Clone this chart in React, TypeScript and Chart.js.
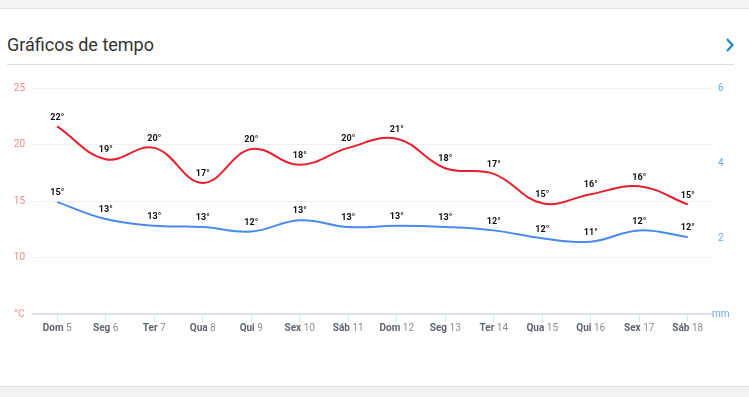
import React, { useEffect, useRef } from "react";
import { Chart, registerables } from "chart.js";

Chart.register(...registerables);

const categories = ["Dom 5", "Seg 6", "Ter 7", "Qua 8", "Qui 9", "Sex 10", "Sáb 11", "Dom 12", "Seg 13", "Ter 14", "Qua 15", "Qui 16", "Sex 17", "Sáb 18"];
const maxTemps = [21.6, 18.7, 19.7, 16.6, 19.6, 18.2, 19.7, 20.5, 17.9, 17.4, 14.8, 15.6, 16.3, 14.7];
const minTemps = [14.9, 13.4, 12.8, 12.7, 12.3, 13.3, 12.7, 12.8, 12.7, 12.4, 11.7, 11.4, 12.4, 11.8];
const tempTicks = { min: 5, max: 25, step: 5, unit: "°C" };
const rainTicks = { min: 0, max: 6, step: 2, unit: "mm" };

const FONT = "Roboto, 'Noto Sans', sans-serif";

const pointLabels = {
  id: "pointLabels",
  afterDatasetsDraw(chart: any) {
    const ctx = chart.ctx;
    ctx.save();
    ctx.font = `bold 9px ${FONT}`;
    ctx.fillStyle = "#111";
    ctx.textAlign = "center";
    ctx.textBaseline = "middle";
    chart.data.datasets.forEach((ds: any, di: number) => {
      const meta = chart.getDatasetMeta(di);
      meta.data.forEach((el: any, i: number) => {
        ctx.fillText(Math.round(ds.data[i]) + "°", el.x, el.y - 9);
      });
    });
    ctx.restore();
  },
};

const xLabels = {
  id: "xLabels",
  afterDraw(chart: any) {
    const ctx = chart.ctx;
    const xs = chart.scales.x;
    ctx.save();
    ctx.textBaseline = "middle";
    ctx.textAlign = "left";
    const y = xs.top + 14;
    categories.forEach((c, i) => {
      const parts = c.split(" ");
      const a = parts[0];
      const b = " " + parts.slice(1).join(" ");
      ctx.font = `bold 10px ${FONT}`;
      const wa = ctx.measureText(a).width;
      ctx.font = `10px ${FONT}`;
      const wb = ctx.measureText(b).width;
      const x0 = xs.getPixelForTick(i) - (wa + wb) / 2;
      ctx.font = `bold 10px ${FONT}`;
      ctx.fillStyle = "#5f6670";
      ctx.fillText(a, x0, y);
      ctx.font = `10px ${FONT}`;
      ctx.fillStyle = "#8a8f96";
      ctx.fillText(b, x0 + wa, y);
    });
    ctx.restore();
  },
};

function WeatherChart() {
  const ref = useRef<HTMLCanvasElement | null>(null);
  useEffect(() => {
    if (!ref.current) return;
    const chart = new Chart(ref.current, {
      type: "line",
      data: {
        labels: categories,
        datasets: [
          {
            label: "Máx",
            data: maxTemps,
            borderColor: "#e3202c",
            borderWidth: 2,
            pointRadius: 0,
            tension: 0.4,
            fill: false,
            yAxisID: "y",
          },
          {
            label: "Mín",
            data: minTemps,
            borderColor: "#4a89ef",
            borderWidth: 2,
            pointRadius: 0,
            tension: 0.4,
            fill: false,
            yAxisID: "y",
          },
        ],
      },
      options: {
        animation: false,
        responsive: true,
        maintainAspectRatio: false,
        layout: { padding: { top: 28, left: 0, right: 0, bottom: 0 } },
        plugins: { legend: { display: false }, tooltip: { enabled: false }, title: { display: false } },
        scales: {
          x: {
            offset: true,
            grid: { offset: false, drawOnChartArea: false, drawTicks: true, tickLength: 8, color: "#dde3ef", lineWidth: 1 },
            border: { display: true, color: "#dde3ef", width: 2 },
            ticks: { color: "rgba(0,0,0,0)", font: { size: 10, family: FONT }, padding: 0, autoSkip: false, maxRotation: 0 },
            afterFit(scale: any) {
              scale.height = 46;
            },
          },
          y: {
            position: "left",
            min: tempTicks.min,
            max: tempTicks.max,
            grid: { color: "#f0f0f0", drawTicks: false },
            border: { display: false },
            ticks: {
              stepSize: tempTicks.step,
              padding: 8,
              crossAlign: "center",
              color: "#f08a80",
              font: { size: 10, family: FONT },
              callback: (v: any) => (v === tempTicks.min ? tempTicks.unit : v),
            },
            afterFit(scale: any) {
              scale.width = 33;
            },
          },
          y1: {
            position: "right",
            display: true,
            min: rainTicks.min,
            max: rainTicks.max,
            grid: { drawOnChartArea: false, drawTicks: false },
            border: { display: false },
            ticks: {
              stepSize: rainTicks.step,
              padding: 0,
              crossAlign: "center",
              color: "#6aa6f4",
              font: { size: 10, family: FONT },
              callback: (v: any) => (v === rainTicks.min ? rainTicks.unit : v),
            },
            afterFit(scale: any) {
              scale.width = 37;
            },
          },
        },
      } as any,
      plugins: [pointLabels, xLabels],
    });
    return () => chart.destroy();
  }, []);
  return (
    <div style={{ position: "absolute", left: 0, top: 60, width: 749, height: 300 }}>
      <canvas ref={ref} />
    </div>
  );
}

export default function App() {
  return (
    <div style={{ position: "fixed", left: 0, top: 0, width: 749, height: 397, background: "#f2f2f2", overflow: "hidden", fontFamily: FONT }}>
      <div style={{ position: "absolute", left: 0, top: 8, width: 749, height: 1, background: "#e2e2e2" }} />
      <div style={{ position: "absolute", left: 0, top: 9, width: 749, height: 377, background: "#ffffff" }} />
      <div style={{ position: "absolute", left: 0, top: 386, width: 749, height: 1, background: "#e6e6e6" }} />
      <div style={{ position: "absolute", left: 7, top: 33, fontSize: 18, lineHeight: "24px", color: "#333333", whiteSpace: "nowrap" }}>
        Gráficos de tempo
      </div>
      <svg style={{ position: "absolute", left: 724, top: 37, width: 12, height: 16 }} viewBox="0 0 12 16">
        <polyline points="3,2 8.5,8 3,14" fill="none" stroke="#1b86c8" strokeWidth="2.2" />
      </svg>
      <div style={{ position: "absolute", left: 7, top: 64, width: 727, height: 1, background: "#dddddd" }} />
      <WeatherChart />
    </div>
  );
}
